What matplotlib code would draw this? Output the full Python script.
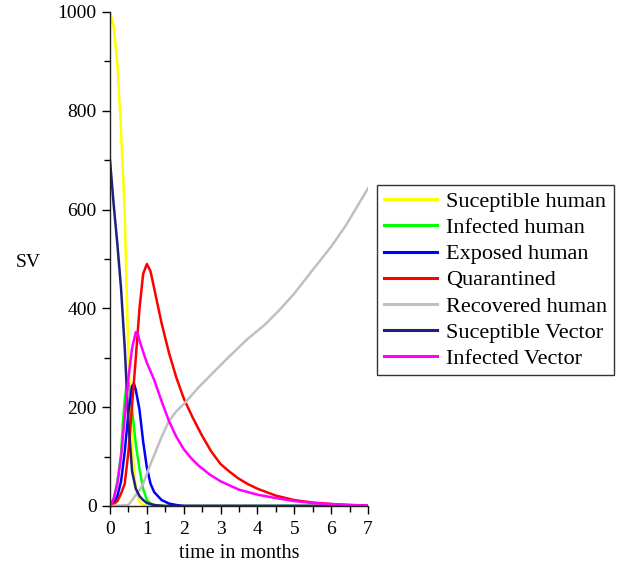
import numpy as np
import matplotlib
matplotlib.use('Agg')
import matplotlib.pyplot as plt
from matplotlib.ticker import MultipleLocator

plt.rcParams['font.family'] = ['Liberation Serif', 'DejaVu Serif']

# values (time in months, population)
t_sh = [0, 0.1, 0.2, 0.3, 0.4, 0.5, 0.6, 0.7, 0.8, 0.9, 1.0, 7.0]
sus_human = [1000, 970, 895, 760, 590, 300, 120, 35, 8, 2, 0, 0]

t_ih = [0, 0.1, 0.2, 0.3, 0.35, 0.4, 0.45, 0.5, 0.55, 0.6, 0.7, 0.8, 0.9, 1.0, 1.1, 1.2, 1.4, 7.0]
inf_human = [0, 14, 50, 105, 170, 215, 245, 250, 228, 195, 125, 75, 35, 12, 5, 2, 0, 0]

t_eh = [0, 0.1, 0.2, 0.3, 0.4, 0.5, 0.6, 0.65, 0.7, 0.8, 0.9, 1.0, 1.1, 1.2, 1.4, 1.6, 1.8, 2.0, 7.0]
exp_human = [0, 5, 20, 50, 110, 190, 243, 248, 235, 195, 130, 78, 45, 28, 12, 5, 2, 0, 0]

t_q = [0, 0.1, 0.2, 0.3, 0.4, 0.5, 0.6, 0.7, 0.8, 0.9, 1.0, 1.1, 1.2, 1.4, 1.6, 1.8, 2.0,
       2.25, 2.5, 2.75, 3.0, 3.25, 3.5, 3.75, 4.0, 4.5, 5.0, 5.5, 6.0, 6.5, 7.0]
quarantined = [0, 4, 10, 25, 45, 110, 205, 300, 400, 470, 490, 475, 440, 370, 310, 260, 218,
               178, 142, 110, 85, 69, 55, 44, 35, 21, 12, 7, 4, 2, 1]

t_rh = [0, 0.5, 0.6, 0.7, 0.8, 0.9, 1.0, 1.1, 1.2, 1.4, 1.6, 1.8, 2.0, 2.4, 2.8, 3.2, 3.7,
        4.2, 4.6, 5.0, 5.5, 6.0, 6.4, 7.0]
rec_human = [0, 2, 12, 22, 32, 45, 65, 85, 103, 140, 172, 192, 206, 240, 270, 300, 336,
             367, 397, 430, 478, 525, 568, 643]

t_sv = [0, 0.1, 0.2, 0.3, 0.4, 0.5, 0.6, 0.7, 0.8, 0.9, 1.0, 1.2, 1.5, 7.0]
sus_vector = [700, 610, 530, 440, 320, 170, 70, 35, 20, 12, 6, 2, 0, 0]

t_iv = [0, 0.1, 0.2, 0.3, 0.4, 0.5, 0.6, 0.7, 0.75, 0.8, 0.9, 1.0, 1.2, 1.4, 1.6, 1.8, 2.0,
        2.2, 2.4, 2.7, 3.0, 3.5, 4.0, 4.5, 5.0, 5.5, 6.0, 6.5, 7.0]
inf_vector = [0, 15, 45, 100, 180, 260, 320, 352, 350, 335, 312, 290, 255, 212, 172, 140, 115,
              97, 82, 64, 50, 33, 23, 16, 10, 6, 4, 2, 1]

series = [
    (t_sh, sus_human, '#ffff00', 'Suceptible human'),
    (t_ih, inf_human, '#00ff00', 'Infected human'),
    (t_eh, exp_human, '#0000ff', 'Exposed human'),
    (t_q, quarantined, '#ff0000', 'Quarantined'),
    (t_rh, rec_human, '#c0c0c0', 'Recovered human'),
    (t_sv, sus_vector, '#202080', 'Suceptible Vector'),
    (t_iv, inf_vector, '#ff00ff', 'Infected Vector'),
]

fig = plt.figure(figsize=(6.23, 5.64), dpi=100)
ax = fig.add_axes([110 / 623, 1 - 506 / 564, 258 / 623, 494 / 564])

for t, v, c, name in series:
    ax.plot(t, v, color=c, lw=1.8, label=name)

ax.set_xlim(0, 7)
ax.set_ylim(0, 1000)
ax.xaxis.set_major_locator(MultipleLocator(1))
ax.xaxis.set_minor_locator(MultipleLocator(0.5))
ax.yaxis.set_major_locator(MultipleLocator(200))
ax.yaxis.set_minor_locator(MultipleLocator(100))
ax.tick_params(which='major', length=6, width=1, labelsize=14, direction='out')
ax.tick_params(which='minor', length=4, width=1, direction='out')
ax.tick_params(axis='x', pad=5)
for s in ['top', 'right']:
    ax.spines[s].set_visible(False)
for s in ['left', 'bottom']:
    ax.spines[s].set_color('#222222')
    ax.spines[s].set_linewidth(1)

ax.set_xlabel('time in months', fontsize=14.5, labelpad=4)
fig.text(28 / 623, 1 - 262 / 564, 'SV', fontsize=14, ha='center', va='center')

leg = ax.legend(loc='upper left', bbox_to_anchor=(1.035, 0.65), borderaxespad=0,
                fontsize=16, frameon=True, fancybox=False, handlelength=2.4,
                labelspacing=0.25, borderpad=0.3, handletextpad=0.42)
leg.get_frame().set_edgecolor('black')
leg.get_frame().set_linewidth(1)
for line in leg.get_lines():
    line.set_linewidth(2.2)

plt.savefig('out.png', dpi=100)
